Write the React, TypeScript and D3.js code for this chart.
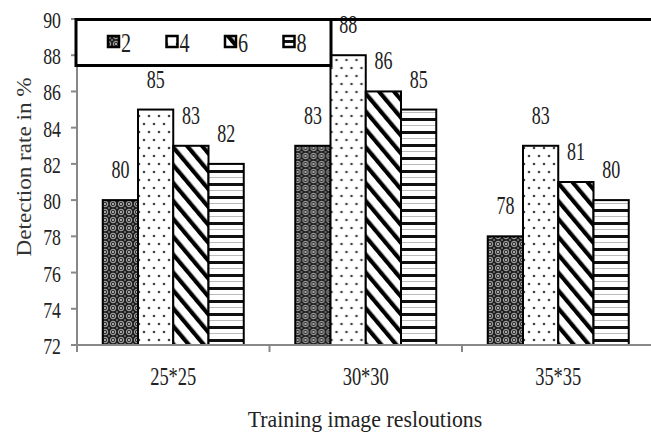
import React from "react";
import * as d3 from "d3";

const categories = ["25*25", "30*30", "35*35"];
const seriesNames = ["2", "4", "6", "8"];
const values: number[][] = [
  [80, 85, 83, 82],
  [83, 88, 86, 85],
  [78, 83, 81, 80],
];
const yTicks = [72, 74, 76, 78, 80, 82, 84, 86, 88, 90];
const yTitle = "Detection rate in %";
const xTitle = "Training image resloutions";

const W = 651;
const H = 439;
const FONT = "'Liberation Serif', 'Times New Roman', serif";

function SText(props: {
  x: number;
  y: number;
  sx?: number;
  size: number;
  anchor?: "start" | "middle" | "end";
  fill?: string;
  children: React.ReactNode;
}) {
  const { x, y, sx = 1, size, anchor = "middle", fill = "#222", children } = props;
  return (
    <text
      transform={`translate(${x},${y}) scale(${sx},1)`}
      fontSize={size}
      textAnchor={anchor}
      fontFamily={FONT}
      fill={fill}
    >
      {children}
    </text>
  );
}

export default function App() {
  const x0 = d3.scaleBand<string>().domain(categories).range([77, 654.5]).paddingInner(0).paddingOuter(0);
  const x1 = d3
    .scaleBand<string>()
    .domain(seriesNames)
    .range([25.75, x0.bandwidth() - 25.75]);
  const y = d3.scaleLinear().domain([72, 90]).range([345, 19]);
  const patterns = ["p2", "p4", "p6", "p8"];

  return (
    <svg
      width={W}
      height={H}
      style={{ position: "absolute", left: 0, top: 0, background: "#fff" }}
    >
      <defs>
        <pattern id="p2" patternUnits="userSpaceOnUse" width={8} height={8}>
          <rect width={8} height={8} fill="#1c1c1c" />
          <circle cx={4} cy={4} r={2.6} fill="none" stroke="#9a9a9a" strokeWidth={1.2} />
          <circle cx={4} cy={4} r={0.9} fill="#e8e8e8" />
          <circle cx={0} cy={0} r={1.1} fill="#777" />
          <circle cx={8} cy={0} r={1.1} fill="#777" />
          <circle cx={0} cy={8} r={1.1} fill="#777" />
          <circle cx={8} cy={8} r={1.1} fill="#777" />
        </pattern>
        <pattern id="p4" patternUnits="userSpaceOnUse" width={10} height={16}>
          <rect width={10} height={16} fill="#fff" />
          <circle cx={2} cy={4} r={1.3} fill="#444" />
          <circle cx={7} cy={12} r={1.3} fill="#444" />
        </pattern>
        <pattern
          id="p6"
          patternUnits="userSpaceOnUse"
          width={11.5}
          height={10}
          patternTransform="rotate(-40)"
        >
          <rect width={11.5} height={10} fill="#fff" />
          <rect width={4.2} height={10} fill="#000" />
        </pattern>
        <pattern id="p8" patternUnits="userSpaceOnUse" width={10} height={13} y={1}>
          <rect width={10} height={13} fill="#fff" />
          <rect y={0} width={10} height={3} fill="#111" />
          <rect y={7} width={10} height={1} fill="#bbb" />
        </pattern>
      </defs>

      {/* Bars */}
      {categories.map((c, ci) => (
        <g key={c} transform={`translate(${x0(c)},0)`}>
          {seriesNames.map((s, si) => {
            const v = values[ci][si];
            return (
              <rect
                key={s}
                x={x1(s)}
                y={y(v)}
                width={x1.bandwidth()}
                height={y(72) - y(v)}
                fill={`url(#${patterns[si]})`}
                stroke="#000"
                strokeWidth={2}
              />
            );
          })}
        </g>
      ))}

      {/* Bar labels */}
      {categories.map((c, ci) =>
        seriesNames.map((s, si) => {
          const v = values[ci][si];
          const cx = (x0(c) as number) + (x1(s) as number) + x1.bandwidth() / 2;
          return (
            <SText key={`${c}-${s}`} x={cx} y={y(v) - 22} sx={0.72} size={25}>
              {v}
            </SText>
          );
        })
      )}

      {/* Y axis */}
      <line x1={77} x2={77} y1={19} y2={346} stroke="#888" strokeWidth={2} />
      {yTicks.map((t) => (
        <g key={t}>
          <line x1={71} x2={77} y1={y(t)} y2={y(t)} stroke="#888" strokeWidth={2} />
          <SText x={61} y={y(t) + 9} sx={0.74} size={24} anchor="end">
            {t}
          </SText>
        </g>
      ))}

      {/* X axis */}
      <line x1={76} x2={W} y1={345} y2={345} stroke="#888" strokeWidth={2} />
      {categories.map((c) => (
        <g key={c}>
          <line
            x1={x0(c) as number}
            x2={x0(c) as number}
            y1={345}
            y2={352}
            stroke="#888"
            strokeWidth={2}
          />
          <SText x={(x0(c) as number) + x0.bandwidth() / 2} y={385} sx={0.74} size={25}>
            {c}
          </SText>
        </g>
      ))}

      {/* Axis titles */}
      <text
        transform="translate(31,167) rotate(-90) scale(1.05,1)"
        fontSize={22}
        textAnchor="middle"
        fontFamily={FONT}
        fill="#333"
      >
        {yTitle}
      </text>
      <SText x={365} y={427} sx={0.95} size={23}>
        {xTitle}
      </SText>

      {/* Legend */}
      <line x1={75} x2={W} y1={19.5} y2={19.5} stroke="#000" strokeWidth={3} />
      <rect x={76} y={19.5} width={255} height={46} fill="#fff" stroke="#000" strokeWidth={3} />
      {seriesNames.map((s, si) => {
        const lx = 108 + si * 58.5;
        return (
          <g key={s}>
            <rect
              x={lx}
              y={36}
              width={11}
              height={11}
              fill={`url(#${patterns[si]})`}
              stroke="#000"
              strokeWidth={2.5}
            />
            <SText x={lx + 13} y={52} sx={0.72} size={28} anchor="start">
              {s}
            </SText>
          </g>
        );
      })}
    </svg>
  );
}
